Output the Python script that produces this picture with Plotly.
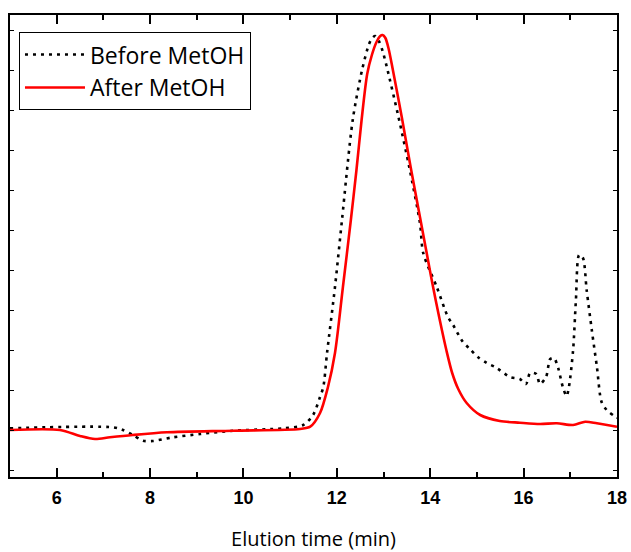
import plotly.graph_objects as go

# Elution time (min) and detector response (arbitrary units)
before_time = [5.00, 7.21, 7.42, 7.63, 7.85, 8.06, 8.49, 9.07, 9.78, 10.85, 11.28, 11.49,
               11.64, 11.71, 11.79, 11.96, 12.11, 12.34, 12.54, 12.69, 12.76, 12.82, 12.90,
               12.98, 13.07, 13.32, 13.55, 13.78, 13.85, 14.14, 14.38, 14.49, 14.70, 14.85,
               15.02, 15.21, 15.39, 15.71, 15.92, 16.05, 16.14, 16.27, 16.35, 16.48, 16.57,
               16.65, 16.74, 16.84, 16.92, 16.97, 17.06, 17.12, 17.19, 17.27, 17.35,
               17.46, 17.57, 17.67, 17.78, 17.94, 18.00]
before_signal = [48.7, 49.7, 47.0, 42.0, 36.3, 36.0, 39.7, 43.0, 46.3, 48.7, 52.0, 62.0,
                 80.0, 90.0, 124.0, 190.0, 257.0, 357.0, 407.0, 433.0, 439.0, 441.0, 436.0,
                 426.0, 410.0, 360.0, 310.0, 254.0, 224.0, 190.0, 160.0, 152.0, 135.0, 128.0,
                 120.0, 114.0, 110.0, 100.0, 98.0, 93.0, 104.0, 103.0, 93.0, 100.0, 118.0,
                 119.0, 109.0, 90.0, 81.0, 90.0, 127.0, 177.0, 222.0, 219.0, 187.0,
                 147.0, 110.0, 75.0, 67.0, 61.0, 59.0]

after_time = [5.00, 6.07, 6.50, 6.82, 7.14, 7.63, 8.36, 9.78, 11.21, 11.43, 11.64, 11.81,
              11.96, 12.13, 12.30, 12.42, 12.53, 12.65, 12.75, 12.85, 12.93, 12.98, 13.04,
              13.11, 13.20, 13.39, 13.58, 13.78, 13.92, 14.04, 14.20, 14.35, 14.47, 14.60,
              14.78, 15.07, 15.49, 15.92, 16.35, 16.71, 17.06, 17.32, 17.57, 18.00]
after_signal = [47.0, 47.0, 41.0, 38.0, 39.7, 42.0, 44.7, 46.3, 48.0, 50.3, 64.0, 90.0,
                124.0, 190.0, 257.0, 307.0, 357.0, 403.0, 422.0, 435.0, 441.0, 442.0, 439.0,
                428.0, 407.0, 360.0, 310.0, 260.0, 225.0, 195.0, 158.0, 126.0, 104.0, 88.0,
                74.0, 62.0, 56.0, 54.3, 53.0, 53.7, 52.0, 55.3, 53.7, 50.3]

series_names = ["Before MetOH", "After MetOH"]
x_tick_vals = [6, 8, 10, 12, 14, 16, 18]
x_title = "Elution time (min)"

fig = go.Figure()
fig.add_trace(go.Scatter(
    x=before_time, y=before_signal, mode="lines", name=series_names[0],
    line=dict(color="black", width=2.6, dash="3px,5px", shape="spline", smoothing=0.8),
))
fig.add_trace(go.Scatter(
    x=after_time, y=after_signal, mode="lines", name=series_names[1],
    line=dict(color="#ff0000", width=2.6, shape="spline", smoothing=0.8),
))

fig.update_layout(
    width=631, height=552,
    margin=dict(l=10, r=14, t=15, b=75, autoexpand=False),
    paper_bgcolor="white", plot_bgcolor="white",
    showlegend=True,
    legend=dict(
        x=0.0148, y=0.963, xanchor="left", yanchor="top",
        bordercolor="black", borderwidth=1, bgcolor="white",
        font=dict(family="Open Sans", size=23, color="black"),
        itemwidth=60, tracegroupgap=0,
    ),
)
fig.update_xaxes(
    range=[5, 18], tickvals=x_tick_vals, ticktext=[str(v) for v in x_tick_vals],
    automargin=False,
    ticks="inside", ticklen=9, tickwidth=1.5, tickcolor="black",
    minor=dict(dtick=1, ticks="inside", ticklen=5, tickwidth=1.5, tickcolor="black"),
    showline=True, linecolor="black", linewidth=2, mirror="ticks",
    showgrid=False, zeroline=False, ticklabelstandoff=3,
    tickfont=dict(family="Liberation Sans, Arial", size=18, color="black", weight="bold"),
    title=dict(text=x_title, font=dict(family="Open Sans", size=20, color="black"), standoff=30),
)
fig.update_yaxes(
    range=[0, 462], tick0=7, dtick=40, automargin=False,
    ticks="inside", ticklen=4, tickwidth=1, tickcolor="black",
    showticklabels=False,
    showline=True, linecolor="black", linewidth=2, mirror="ticks",
    showgrid=False, zeroline=False,
)

fig.write_html("out.html")
